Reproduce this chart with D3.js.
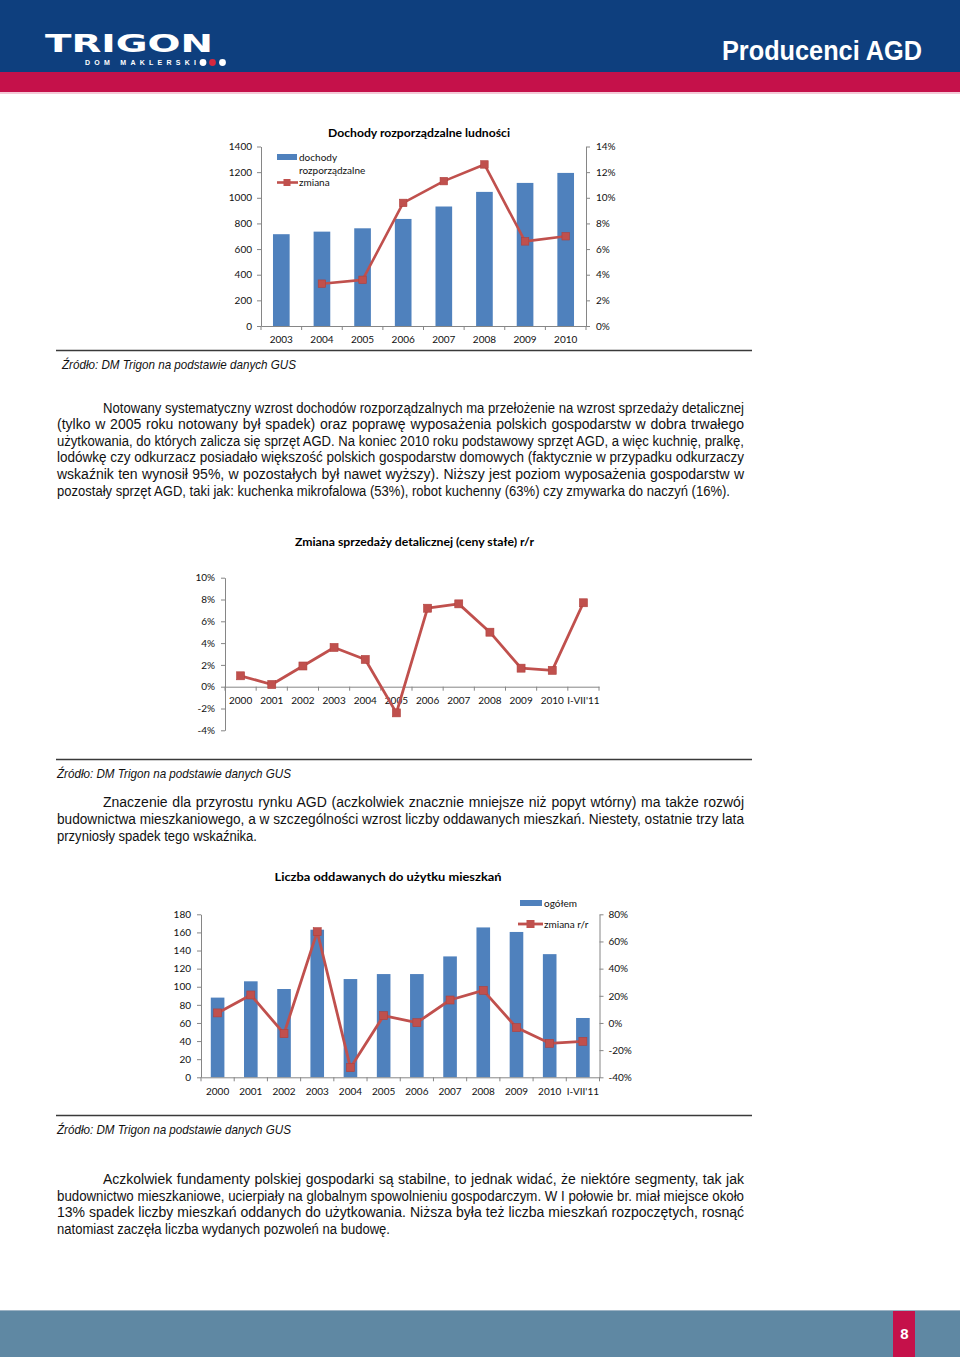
<!DOCTYPE html>
<html><head><meta charset="utf-8">
<script src="https://cdn.jsdelivr.net/npm/d3@7/dist/d3.min.js"></script>
<style>
html,body{margin:0;padding:0;background:#fff;}
svg{display:block;}
</style></head>
<body>
<svg id="page" width="960" height="1357"></svg>
<script>
// ---------------- DATA ----------------
const incomeYears = ["2003","2004","2005","2006","2007","2008","2009","2010"];
const incomeValues = [716, 736, 762, 835, 932, 1046, 1116, 1194];
const incomeChange = [null, 3.3, 3.6, 9.6, 11.3, 12.6, 6.6, 7.0];
const incomeLeftTicks = [0, 200, 400, 600, 800, 1000, 1200, 1400];
const incomeRightTicks = [0, 2, 4, 6, 8, 10, 12, 14];

const retailYears = ["2000","2001","2002","2003","2004","2005","2006","2007","2008","2009","2010","I-VII'11"];
const retailChange = [1.0, 0.2, 1.9, 3.6, 2.5, -2.4, 7.2, 7.6, 5.0, 1.7, 1.5, 7.7];
const retailTicks = [-4, -2, 0, 2, 4, 6, 8, 10];

const housingYears = ["2000","2001","2002","2003","2004","2005","2006","2007","2008","2009","2010","I-VII'11"];
const housingTotal = [88, 106, 97.5, 163, 108.5, 114, 114, 133.5, 165.5, 160.5, 136, 65.5];
const housingChange = [7.4, 20.6, -7.9, 67.2, -32.9, 5.4, 0.2, 16.9, 24.0, -3.4, -15.0, -13.5];
const housingLeftTicks = [0, 20, 40, 60, 80, 100, 120, 140, 160, 180];
const housingRightTicks = [-40, -20, 0, 20, 40, 60, 80];

const chartTitles = ["Dochody rozporządzalne ludności", "Zmiana sprzedaży detalicznej (ceny stałe) r/r", "Liczba oddawanych do użytku mieszkań"];
const incomeLegend = [["dochody", "rozporządzalne"], ["zmiana"]];
const housingLegend = ["ogółem", "zmiana r/r"];
const sourceText = "Źródło: DM Trigon na podstawie danych GUS";

const para1 = [
 "Notowany systematyczny wzrost dochodów rozporządzalnych ma przełożenie na wzrost sprzedaży detalicznej",
 "(tylko w 2005 roku notowany był spadek) oraz poprawę wyposażenia polskich gospodarstw w dobra trwałego",
 "użytkowania, do których zalicza się sprzęt AGD. Na koniec 2010 roku podstawowy sprzęt AGD, a więc kuchnię, pralkę,",
 "lodówkę czy odkurzacz posiadało większość polskich gospodarstw domowych (faktycznie w przypadku odkurzaczy",
 "wskaźnik ten wynosił 95%, w pozostałych był nawet wyższy). Niższy jest poziom wyposażenia gospodarstw w",
 "pozostały sprzęt AGD, taki jak: kuchenka mikrofalowa (53%), robot kuchenny (63%) czy zmywarka do naczyń (16%)."
];
const para2 = [
 "Znaczenie dla przyrostu rynku AGD (aczkolwiek znacznie mniejsze niż popyt wtórny) ma także rozwój",
 "budownictwa mieszkaniowego, a w szczególności wzrost liczby oddawanych mieszkań. Niestety, ostatnie trzy lata",
 "przyniosły spadek tego wskaźnika."
];
const para3 = [
 "Aczkolwiek fundamenty polskiej gospodarki są stabilne, to jednak widać, że niektóre segmenty, tak jak",
 "budownictwo mieszkaniowe, ucierpiały na globalnym spowolnieniu gospodarczym. W I połowie br. miał miejsce około",
 "13% spadek liczby mieszkań oddanych do użytkowania. Niższa była też liczba mieszkań rozpoczętych, rosnąć",
 "natomiast zaczęła liczba wydanych pozwoleń na budowę."
];

// ---------------- STYLE ----------------
const BLUE_HDR = "#0e3f7e", RED_HDR = "#c5114a", FOOT = "#5f88a3";
const BAR = "#4f81bd", LINE = "#c0504d", AXIS = "#868686";
const FONT_TEXT = "'Liberation Sans Narrow','Arial Narrow','Liberation Sans',Arial,sans-serif";
const FONT_CHART = "Lato,'Open Sans',sans-serif";

const svg = d3.select("#page");

// ---------------- HEADER ----------------
svg.append("rect").attr("x",0).attr("y",0).attr("width",960).attr("height",72).attr("fill",BLUE_HDR);
svg.append("rect").attr("x",0).attr("y",72).attr("width",960).attr("height",20).attr("fill",RED_HDR);
svg.append("rect").attr("x",0).attr("y",92).attr("width",960).attr("height",2).attr("fill","#f4cad7");
svg.append("text").attr("x",45).attr("y",51.5).attr("fill","#fff")
  .attr("font-family","'DejaVu Sans','Liberation Sans',sans-serif").attr("font-weight","bold")
  .attr("font-size",25).attr("textLength",168).attr("lengthAdjust","spacingAndGlyphs").text("TRIGON");
svg.append("text").attr("x",85).attr("y",65.2).attr("fill","#fff")
  .attr("font-family","'Liberation Sans',sans-serif").attr("font-weight","bold")
  .attr("font-size",7).attr("textLength",111).attr("lengthAdjust","spacing").text("DOM MAKLERSKI");
[["#ffffff",203],["#d6283f",212.5],["#ffffff",222.5]].forEach(([c,x])=>{
  svg.append("circle").attr("cx",x).attr("cy",62.5).attr("r",3.4).attr("fill",c);
});
svg.append("text").attr("x",922).attr("y",60).attr("text-anchor","end").attr("fill","#fff")
  .attr("font-family",FONT_TEXT).attr("font-weight","bold").attr("font-size",27)
  .attr("textLength",200).attr("lengthAdjust","spacingAndGlyphs").text("Producenci AGD");

// ---------------- FOOTER ----------------
svg.append("rect").attr("x",0).attr("y",1311).attr("width",960).attr("height",46).attr("fill",FOOT);
svg.append("rect").attr("x",0).attr("y",1310).attr("width",960).attr("height",1).attr("fill","#9db3c4");
svg.append("rect").attr("x",893).attr("y",1311).attr("width",22).attr("height",46).attr("fill",RED_HDR);
svg.append("text").attr("x",904.5).attr("y",1339).attr("text-anchor","middle").attr("fill","#fff")
  .attr("font-family",FONT_TEXT).attr("font-weight","bold").attr("font-size",15).text("8");

// ---------------- TEXT HELPERS ----------------
function justifiedLine(t, x, y, target, justify, size) {
  const el = svg.append("text").attr("x",x).attr("y",y).attr("fill","#111")
    .attr("font-family",FONT_TEXT).attr("font-size",size).text(t);
  const w0 = el.node().getComputedTextLength();
  if (!justify || w0 > target) {
    el.attr("textLength",target).attr("lengthAdjust","spacingAndGlyphs");
  } else {
    const spaces = (t.match(/ /g) || []).length;
    if (spaces > 0) el.style("word-spacing", ((target - w0) / spaces) + "px");
  }
}
function paragraph(lines, yFirst, lh, lastWidth) {
  lines.forEach((t,i)=>{
    const x = i === 0 ? 103 : 57;
    const last = i === lines.length - 1;
    justifiedLine(t, x, yFirst + i*lh, last ? lastWidth : 744 - x, !last, 14);
  });
}
function source(x, y) {
  svg.append("text").attr("x",x).attr("y",y).attr("fill","#111")
    .attr("font-family",FONT_TEXT).attr("font-style","italic").attr("font-size",13.5)
    .attr("textLength",234).attr("lengthAdjust","spacingAndGlyphs").text(sourceText);
}
function separator(y) {
  svg.append("line").attr("x1",56).attr("x2",752).attr("y1",y).attr("y2",y)
    .attr("stroke","#3a3a3a").attr("stroke-width",1.6);
}
function title(t, cx, y, w) {
  svg.append("text").attr("x",cx).attr("y",y).attr("text-anchor","middle").attr("fill","#000")
    .attr("font-family",FONT_CHART).attr("font-weight","bold").attr("font-size",12)
    .attr("textLength",w).attr("lengthAdjust","spacingAndGlyphs").text(t);
}
function styleAxis(g) {
  g.selectAll("path.domain").attr("stroke",AXIS);
  g.selectAll(".tick line").attr("stroke",AXIS);
  g.selectAll("text").attr("font-family",FONT_CHART).attr("font-size",10).attr("fill","#111");
}
function catTicks(g, x, y, len) {
  const n = x.domain().length, r = x.range(), step = (r[1]-r[0]) / n;
  g.selectAll("line.ct").data(d3.range(n+1)).join("line").attr("class","ct")
    .attr("x1", i => r[0] + i*step).attr("x2", i => r[0] + i*step)
    .attr("y1", y).attr("y2", y + len).attr("stroke",AXIS);
}
function markers(g, data, x, y, s) {
  g.selectAll("rect.mk").data(data.filter(d => d.v !== null)).join("rect").attr("class","mk")
    .attr("x", d => x(d.k) + x.bandwidth()/2 - s/2).attr("y", d => y(d.v) - s/2)
    .attr("width", s).attr("height", s).attr("fill", LINE).attr("stroke","#b0403d").attr("stroke-width",0.6);
}
function pct(d){ return d + "%"; }
const plain = d3.format("d");

// ---------------- CHART 1 ----------------
(function(){
  const x = d3.scaleBand().domain(incomeYears).range([261,586]).paddingInner(0.59).paddingOuter(0.295);
  const yL = d3.scaleLinear().domain([0,1400]).range([326,146.5]);
  const yR = d3.scaleLinear().domain([0,14]).range([326,146.5]);
  const g = svg.append("g");
  title(chartTitles[0], 419, 137, 182);
  g.append("g").attr("transform","translate(261,0)")
    .call(d3.axisLeft(yL).tickValues(incomeLeftTicks).tickSize(4).tickSizeOuter(0).tickPadding(5).tickFormat(plain)).call(styleAxis);
  g.append("g").attr("transform","translate(586,0)")
    .call(d3.axisRight(yR).tickValues(incomeRightTicks).tickSize(4).tickSizeOuter(0).tickPadding(6).tickFormat(pct)).call(styleAxis);
  g.selectAll("rect.bar").data(incomeYears).join("rect").attr("class","bar")
    .attr("x", d => x(d)).attr("width", x.bandwidth())
    .attr("y", (d,i) => yL(incomeValues[i])).attr("height", (d,i) => yL(0) - yL(incomeValues[i]))
    .attr("fill", BAR);
  g.append("g").attr("transform","translate(0,326)")
    .call(d3.axisBottom(x).tickSize(0).tickSizeOuter(0).tickPadding(10)).call(styleAxis);
  catTicks(g, x, 326, 4);
  const pts = incomeYears.map((k,i)=>({k, v: incomeChange[i]}));
  g.append("path").datum(pts).attr("fill","none").attr("stroke",LINE).attr("stroke-width",2.6)
    .attr("stroke-linejoin","round")
    .attr("d", d3.line().defined(d => d.v !== null).x(d => x(d.k) + x.bandwidth()/2).y(d => yR(d.v)));
  markers(g, pts, x, yR, 7.5);
  // legend
  const lg = svg.append("g").attr("font-family",FONT_CHART).attr("font-size",10).attr("fill","#111");
  lg.append("rect").attr("x",277).attr("y",154).attr("width",20).attr("height",6).attr("fill",BAR);
  incomeLegend[0].forEach((t,i)=> lg.append("text").attr("x",299).attr("y",160.5 + i*13.3).text(t));
  lg.append("line").attr("x1",277).attr("x2",298).attr("y1",182.5).attr("y2",182.5).attr("stroke",LINE).attr("stroke-width",2.6);
  lg.append("rect").attr("x",283.5).attr("y",179).attr("width",7).attr("height",7).attr("fill",LINE);
  lg.append("text").attr("x",299).attr("y",186).text(incomeLegend[1][0]);
})();
separator(350.5);
source(62, 368.5);

paragraph(para1, 412.5, 16.6, 673);

// ---------------- CHART 2 ----------------
(function(){
  const x = d3.scaleBand().domain(retailYears).range([225,599]);
  const y = d3.scaleLinear().domain([-4,10]).range([730.3,577.7]);
  const g = svg.append("g");
  title(chartTitles[1], 414.5, 546, 239);
  g.append("g").attr("transform","translate(225,0)")
    .call(d3.axisLeft(y).tickValues(retailTicks).tickSize(4).tickSizeOuter(0).tickPadding(6).tickFormat(pct)).call(styleAxis);
  g.append("g").attr("transform",`translate(0,${y(0)})`)
    .call(d3.axisBottom(x).tickSize(0).tickSizeOuter(0).tickPadding(10)).call(styleAxis);
  catTicks(g, x, y(0), 4);
  const pts = retailYears.map((k,i)=>({k, v: retailChange[i]}));
  g.append("path").datum(pts).attr("fill","none").attr("stroke",LINE).attr("stroke-width",2.8)
    .attr("stroke-linejoin","round")
    .attr("d", d3.line().x(d => x(d.k) + x.bandwidth()/2).y(d => y(d.v)));
  markers(g, pts, x, y, 8);
})();
separator(759.5);
source(57, 777.5);

paragraph(para2, 807, 17, 200);

// ---------------- CHART 3 ----------------
(function(){
  const x = d3.scaleBand().domain(housingYears).range([201,599.5]).paddingInner(0.59).paddingOuter(0.295);
  const yL = d3.scaleLinear().domain([0,180]).range([1077.3,914.3]);
  const yR = d3.scaleLinear().domain([-40,80]).range([1077.3,914.3]);
  const g = svg.append("g");
  title(chartTitles[2], 388, 881, 227);
  g.append("g").attr("transform","translate(201,0)")
    .call(d3.axisLeft(yL).tickValues(housingLeftTicks).tickSize(4).tickSizeOuter(0).tickPadding(6).tickFormat(plain)).call(styleAxis);
  g.append("g").attr("transform","translate(599.5,0)")
    .call(d3.axisRight(yR).tickValues(housingRightTicks).tickSize(4).tickSizeOuter(0).tickPadding(5).tickFormat(pct)).call(styleAxis);
  g.selectAll("rect.bar").data(housingYears).join("rect").attr("class","bar")
    .attr("x", d => x(d)).attr("width", x.bandwidth())
    .attr("y", (d,i) => yL(housingTotal[i])).attr("height", (d,i) => yL(0) - yL(housingTotal[i]))
    .attr("fill", BAR);
  g.append("g").attr("transform","translate(0,1077.3)")
    .call(d3.axisBottom(x).tickSize(0).tickSizeOuter(0).tickPadding(11)).call(styleAxis);
  catTicks(g, x, 1077.3, 4);
  const pts = housingYears.map((k,i)=>({k, v: housingChange[i]}));
  g.append("path").datum(pts).attr("fill","none").attr("stroke",LINE).attr("stroke-width",2.8)
    .attr("stroke-linejoin","round")
    .attr("d", d3.line().x(d => x(d.k) + x.bandwidth()/2).y(d => yR(d.v)));
  markers(g, pts, x, yR, 8);
  const lg = svg.append("g").attr("font-family",FONT_CHART).attr("font-size",10).attr("fill","#111");
  lg.append("rect").attr("x",520).attr("y",900).attr("width",22).attr("height",6).attr("fill",BAR);
  lg.append("text").attr("x",544).attr("y",906.5).text(housingLegend[0]);
  lg.append("line").attr("x1",518).attr("x2",543).attr("y1",924).attr("y2",924).attr("stroke",LINE).attr("stroke-width",2.8);
  lg.append("rect").attr("x",526.5).attr("y",920).attr("width",8).attr("height",8).attr("fill",LINE);
  lg.append("text").attr("x",544).attr("y",927.5).text(housingLegend[1]);
})();
separator(1115.5);
source(57, 1133.5);

paragraph(para3, 1184, 16.7, 333);
</script>
</body></html>
